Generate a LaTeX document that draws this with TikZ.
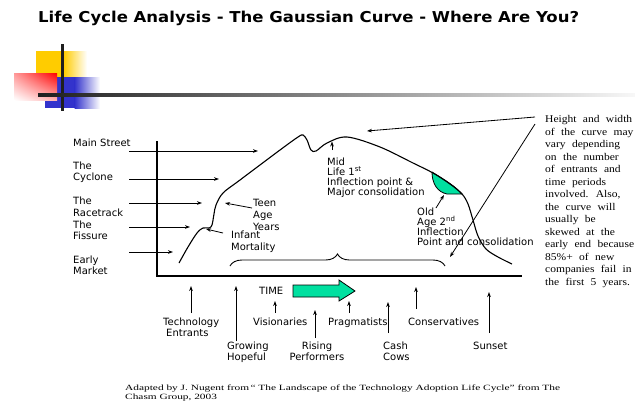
\documentclass[tikz,border=0pt]{standalone}
\usepackage{fontspec}
\usetikzlibrary{arrows.meta,decorations.pathreplacing,shadings}
\newfontfamily\lblfont{DejaVu Sans}
\newfontfamily\titlefont[FakeStretch=1.1]{DejaVu Sans}
\newfontfamily\notefont[FakeStretch=1.12,WordSpace=2.2]{Liberation Serif}
\newfontfamily\footfont[FakeStretch=1.42]{Liberation Serif}
\definecolor{tealgreen}{RGB}{0,224,160}
\definecolor{decoyellow}{RGB}{255,204,0}
\definecolor{decoblue}{RGB}{51,51,204}
\definecolor{decored}{RGB}{255,0,0}
\begin{document}
\begin{tikzpicture}[x=1pt,y=-1pt,
  lbl/.style={font=\lblfont\fontsize{10}{11}\selectfont, align=left, anchor=base west, inner sep=0pt},
  arr/.style={line width=0.8pt, -{Stealth[length=5pt,width=3.6pt]}},
  axisline/.style={line width=1.2pt},
  curveline/.style={line width=1.1pt}]
\useasboundingbox (0,0) rectangle (635,405);

% decoration
\fill[decoyellow] (36,51) rectangle (64,77);
\shade[left color=decoyellow, right color=white] (63.5,51) rectangle (87,77);
\fill[decoblue] (45,77) rectangle (75,108);
\shade[left color=decoblue, right color=white] (74.5,77) rectangle (100,108);
\shade[upper right=decored, lower left=white, upper left=decored!40!white, lower right=decored!30!white] (14,73) rectangle (57,100);
\draw[line width=3pt, black!88] (62,44) -- (62,111);
\shade[left color=black!88, right color=black!3] (38,93.5) rectangle (635,96.5);

% title
\node[anchor=base west, inner sep=0pt, font=\titlefont\bfseries\fontsize{15}{18}\selectfont] (title) at (38,22.5) {Life Cycle Analysis - The Gaussian Curve - Where Are You?};

% axes
\draw[axisline] (157,141) -- (157,276) -- (522,276);

% green region
\fill[tealgreen, draw=black, line width=0.8pt] (432,172) .. controls (445,180) and (455,186) .. (462,194) -- (447,194) .. controls (437,192) and (432,183) .. (432,172);

% curve
\draw[curveline] plot[smooth, tension=0.55] coordinates {(179,263) (188,247) (197,233) (203,228) (209,228) (212,225) (214,214) (216,205) (223,193) (240,180) (280,150) (298,137) (303,135) (307,140) (311,150) (316,151) (327,143) (347,137) (380,147) (413,163) (433,173) (450,184) (462,194) (468,204) (473,220) (478,236) (486,249) (498,257) (512,264)};

% brace
\coordinate (braceL) at (230,266);
\coordinate (braceR) at (445,266);
\draw[decorate, decoration={brace, amplitude=12pt}, line width=0.9pt] (braceL) -- (braceR);

% left labels (anchor = baseline of last line)
\node[lbl] (mainstreet) at (73,146.5) {Main Street};
\node[lbl] (cyclone) at (73,180.5) {The\\Cyclone};
\node[lbl, font=\lblfont\fontsize{10}{12}\selectfont] (racetrack) at (73,216.5) {The\\Racetrack};
\node[lbl] (fissure) at (73,239.5) {The\\Fissure};
\node[lbl] (early) at (73,274.5) {Early\\Market};

\coordinate (msA) at (129,151); \coordinate (msB) at (258,151);
\coordinate (cyA) at (129,179); \coordinate (cyB) at (219,179);
\coordinate (rtA) at (129,203); \coordinate (rtB) at (202,203);
\coordinate (fiA) at (129,227); \coordinate (fiB) at (190,227);
\coordinate (emA) at (129,252); \coordinate (emB) at (173,252);
\draw[arr] (msA) -- (msB);
\draw[arr] (cyA) -- (cyB);
\draw[arr] (rtA) -- (rtB);
\draw[arr] (fiA) -- (fiB);
\draw[arr] (emA) -- (emB);

% curve labels
\node[lbl, font=\lblfont\fontsize{10}{12}\selectfont] (teen) at (253,230.5) {Teen\\Age\\Years};
\node[lbl, font=\lblfont\fontsize{10}{12}\selectfont] (infant) at (231,250.5) {Infant\\Mortality};
\node[lbl, font=\lblfont\fontsize{10}{10}\selectfont] (mid) at (327,195.5) {Mid\\Life 1\textsuperscript{st}\\Inflection point \&\\Major consolidation};
\node[lbl, font=\lblfont\fontsize{10}{10}\selectfont] (old) at (417,245.5) {Old\\Age 2\textsuperscript{nd}\\Inflection\\Point and consolidation};

\coordinate (teenA) at (252,208); \coordinate (teenB) at (225,203);
\coordinate (infA) at (223,233); \coordinate (infB) at (206,229);
\coordinate (midA) at (332,150); \coordinate (midB) at (332,141.5);
\coordinate (oldA) at (436,208); \coordinate (oldB) at (444,195);
\draw[arr] (teenA) -- (teenB);
\draw[arr] (infA) -- (infB);
\draw[arr] (midA) -- (midB);
\draw[arr] (oldA) -- (oldB);

% right note
\node[anchor=base west, inner sep=0pt, align=left, font=\notefont\fontsize{10.3}{12.5}\selectfont] (note) at (545,285) {Height and width\\of the curve may\\vary depending\\on the number\\of entrants and\\time periods\\involved. Also,\\the curve will\\usually be\\skewed at the\\early end because\\85\%+ of new\\companies fail in\\the first 5 years.};
\coordinate (hA) at (535,117); \coordinate (hB) at (367,131);
\coordinate (hC) at (535,124); \coordinate (hD) at (450,257);
\draw[arr] (hA) -- (hB);
\draw[arr] (hC) -- (hD);

% time arrow
\node[lbl] (time) at (259,294.5) {TIME};
\fill[tealgreen, draw=black, line width=0.8pt] (293,285) -- (339,285) -- (339,280) -- (355,291) -- (339,301) -- (339,297) -- (293,297) -- cycle;

% bottom labels
\node[lbl] (tech) at (163,336.5) {Technology\\\hspace{3pt}Entrants};
\node[lbl] (growing) at (227,360.5) {Growing\\Hopeful};
\node[lbl] (vision) at (253,325.5) {Visionaries};
\node[lbl, align=center, anchor=base] (rising) at (317,360.5) {Rising\\Performers};
\node[lbl] (prag) at (328,325.5) {Pragmatists};
\node[lbl] (cash) at (383,360.5) {Cash\\Cows};
\node[lbl] (cons) at (408,325.5) {Conservatives};
\node[lbl] (sunset) at (473,349.5) {Sunset};

\coordinate (tA) at (191,313); \coordinate (tB) at (191,286);
\coordinate (gA) at (236,341); \coordinate (gB) at (236,286);
\coordinate (vA) at (275,313); \coordinate (vB) at (275,301);
\coordinate (rA) at (315,338); \coordinate (rB) at (315,310);
\coordinate (pA) at (349,313); \coordinate (pB) at (349,301);
\coordinate (cA) at (388,333); \coordinate (cB) at (388,302);
\coordinate (coA) at (416,309); \coordinate (coB) at (416,287);
\coordinate (sA) at (489,333); \coordinate (sB) at (489,292);
\draw[arr] (tA) -- (tB);
\draw[arr] (gA) -- (gB);
\draw[arr] (vA) -- (vB);
\draw[arr] (rA) -- (rB);
\draw[arr] (pA) -- (pB);
\draw[arr] (cA) -- (cB);
\draw[arr] (coA) -- (coB);
\draw[arr] (sA) -- (sB);

% footnote
\node[anchor=base west, inner sep=0pt, align=left, font=\footfont\fontsize{8}{9}\selectfont] (foot) at (125,399.5) {Adapted by J. Nugent from\,“ The Landscape of the Technology Adoption Life Cycle” from The\\Chasm Group, 2003};
\end{tikzpicture}
\end{document}
